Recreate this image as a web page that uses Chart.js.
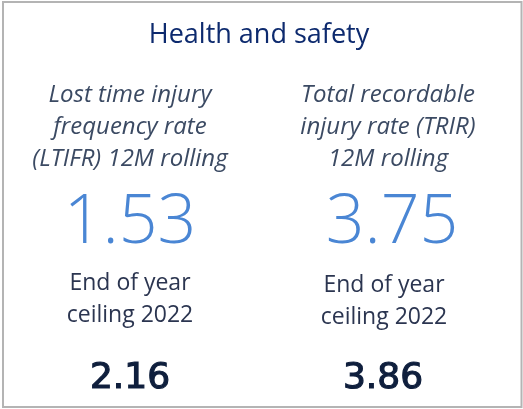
<!DOCTYPE html>
<html>
<head>
<meta charset="utf-8">
<script src="https://cdn.jsdelivr.net/npm/chart.js@4/dist/chart.umd.min.js"></script>
<style>
  body { margin: 0; background: #fff; }
  #kpi { display: block; }
</style>
</head>
<body>
<canvas id="kpi" width="523" height="409"></canvas>
<script>
// date KPI
const categories = ['LTIFR', 'TRIR'];
const kpiLabels = [
    ['Lost time injury', 'frequency rate', '(LTIFR) 12M rolling'],
    ['Total recordable', 'injury rate (TRIR)', '12M rolling']
];
const actualValues = [1.53, 3.75];
const ceilingLabel = ['End of year', 'ceiling 2022'];
const ceilingValues = [2.16, 3.86];

// plugin care scrie textele in centrul fiecarei categorii
const kpiText = {
    id: 'kpiText',
    afterDraw(chart) {
        const ctx = chart.ctx;
        const x = chart.scales.x;
        ctx.save();
        // chenarul cardului
        ctx.strokeStyle = '#b4b4b4';
        ctx.lineWidth = 2;
        ctx.strokeRect(3, 2, 518.5, 405);

        ctx.textAlign = 'center';
        ctx.textBaseline = 'alphabetic';
        categories.forEach((c, i) => {
            const cx = x.getPixelForValue(i);
            ctx.fillStyle = '#3b4a63';
            ctx.font = 'italic 24px "Open Sans"';
            kpiLabels[i].forEach((t, j) => ctx.fillText(t, cx, 102 + j * 32));

            ctx.fillStyle = '#4a86d4';
            ctx.font = '300 68px "Open Sans"';
            ctx.fillText(actualValues[i].toFixed(2), cx + i * 4, 243);

            ctx.fillStyle = '#2b3550';
            ctx.font = '23px "Open Sans"';
            ceilingLabel.forEach((t, j) => ctx.fillText(t, cx - i * 4, 290 + i * 2 + j * 32));

            // cifra plafonului, putin ingrosata
            ctx.fillStyle = '#0f1f3d';
            ctx.strokeStyle = '#0f1f3d';
            ctx.lineWidth = 1.2;
            ctx.font = '36px "DejaVu Sans"';
            ctx.fillText(ceilingValues[i].toFixed(2), cx - i * 5, 388);
            ctx.strokeText(ceilingValues[i].toFixed(2), cx - i * 5, 388);
        });
        ctx.restore();
    }
};

const chart = new Chart(document.getElementById('kpi'), {
    type: 'bar',
    data: {
        labels: categories,
        datasets: [{
            data: actualValues,
            backgroundColor: 'rgba(0,0,0,0)',
            borderWidth: 0
        }]
    },
    options: {
        responsive: false,
        animation: false,
        layout: { padding: { left: 1, right: 6, top: 0, bottom: 0 } },
        scales: {
            x: { display: false },
            y: { display: false, beginAtZero: true }
        },
        plugins: {
            legend: { display: false },
            tooltip: { enabled: false },
            title: {
                display: true,
                text: 'Health and safety',
                color: '#0d2a6e',
                font: { family: 'Open Sans', size: 27, weight: 'normal' },
                padding: { top: 19, bottom: 10 }
            }
        }
    },
    plugins: [kpiText]
});
</script>
</body>
</html>
